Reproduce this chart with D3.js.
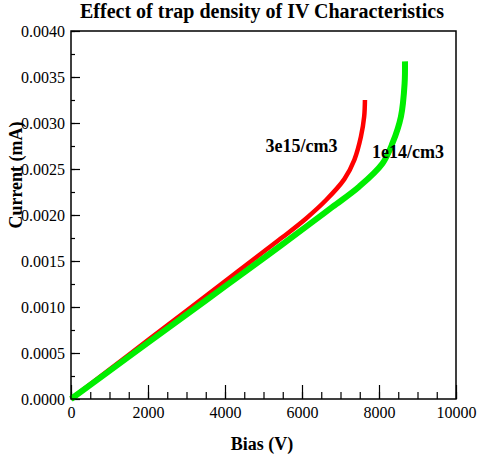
<!DOCTYPE html>
<html>
<head>
<meta charset="utf-8">
<script src="https://cdn.jsdelivr.net/npm/d3@7"></script>
<style>
  body { margin: 0; background: #fff; }
  svg { display: block; }
  svg text { font-family: "Liberation Serif", "DejaVu Serif", serif; fill: #000; }
  .tick text { font-size: 16px; }
  .tick line { stroke: #000; stroke-width: 1.2; }
</style>
</head>
<body>
<div id="chart"></div>
<script>
// bias in V, current in mA
var biasRed = [0, 1000, 2000, 3000, 4000, 5000, 5500, 6100, 6620, 7100, 7360, 7530, 7615, 7635];
var currentRed = [0, 0.00032, 0.00064, 0.00096, 0.00128, 0.0016, 0.00176, 0.00196, 0.00216, 0.00239, 0.0026, 0.00285, 0.00307, 0.00325];

var biasGreen = [0, 1000, 2000, 3000, 4000, 5000, 6100, 6800, 7490, 8090, 8350, 8570, 8665, 8675];
var currentGreen = [0, 0.000306, 0.000612, 0.000918, 0.001224, 0.00153, 0.00187, 0.00209, 0.00231, 0.00256, 0.00278, 0.00307, 0.00343, 0.00367];

var xTicks = [0, 2000, 4000, 6000, 8000, 10000];
var yTicks = [0, 0.0005, 0.001, 0.0015, 0.002, 0.0025, 0.003, 0.0035, 0.004];

var labels = ["3e15/cm3", "1e14/cm3"];

var WIDTH = 477, HEIGHT = 459;
var margin = {left: 71, right: 21, top: 31, bottom: 60};
var w = WIDTH - margin.left - margin.right;
var h = HEIGHT - margin.top - margin.bottom;

var svg = d3.select("#chart").append("svg")
    .attr("width", WIDTH)
    .attr("height", HEIGHT);

var g = svg.append("g")
    .attr("transform", "translate(" + margin.left + "," + margin.top + ")");

var x = d3.scaleLinear().domain([0, 10000]).range([0, w]);
var y = d3.scaleLinear().domain([0, 0.004]).range([h, 0]);

function clean(s) {
  s.select(".domain").remove();
  s.attr("font-family", null).attr("font-size", null);
}

// minor ticks first
g.append("g")
    .attr("transform", "translate(0," + h + ")")
    .call(d3.axisBottom(x).tickValues(d3.range(0, 10001, 500)).tickSize(-7).tickFormat(""))
    .call(clean);

g.append("g")
    .call(d3.axisLeft(y).tickValues(d3.range(0, 17).map(function(i) { return i * 0.00025; })).tickSize(-4).tickFormat(""))
    .call(clean);

// major ticks
g.append("g")
    .attr("transform", "translate(0," + h + ")")
    .call(d3.axisBottom(x).tickValues(xTicks).tickSize(-14).tickPadding(8).tickFormat(d3.format("d")))
    .call(clean);

g.append("g")
    .call(d3.axisLeft(y).tickValues(yTicks).tickSize(-9).tickPadding(6).tickFormat(d3.format(".4f")))
    .call(clean);

var line = d3.line()
    .x(function(d) { return x(d[0]); })
    .y(function(d) { return y(d[1]); })
    .curve(d3.curveCatmullRom.alpha(0.5));

g.append("path")
    .datum(d3.zip(biasRed, currentRed))
    .attr("fill", "none")
    .attr("stroke", "#ff0000")
    .attr("stroke-width", 4.5)
    .attr("d", line);

g.append("path")
    .datum(d3.zip(biasGreen, currentGreen))
    .attr("fill", "none")
    .attr("stroke", "#00ee00")
    .attr("stroke-width", 6)
    .attr("d", line);

// frame
g.append("rect")
    .attr("width", w)
    .attr("height", h)
    .attr("fill", "none")
    .attr("stroke", "#000")
    .attr("stroke-width", 1.5);

// curve labels
g.append("text")
    .attr("x", x(5050))
    .attr("y", y(0.00269))
    .attr("font-size", 18)
    .attr("font-weight", "bold")
    .text(labels[0]);

g.append("text")
    .attr("x", x(7820))
    .attr("y", y(0.00262))
    .attr("font-size", 18)
    .attr("font-weight", "bold")
    .text(labels[1]);

svg.append("text")
    .attr("x", 262)
    .attr("y", 18)
    .attr("text-anchor", "middle")
    .attr("font-size", 20)
    .attr("font-weight", "bold")
    .text("Effect of trap density of IV Characteristics");

svg.append("text")
    .attr("x", 262)
    .attr("y", 450)
    .attr("text-anchor", "middle")
    .attr("font-size", 18)
    .attr("font-weight", "bold")
    .text("Bias (V)");

svg.append("text")
    .attr("transform", "translate(22,175) rotate(-90)")
    .attr("text-anchor", "middle")
    .attr("font-size", 18)
    .attr("font-weight", "bold")
    .text("Current (mA)");
</script>
</body>
</html>
